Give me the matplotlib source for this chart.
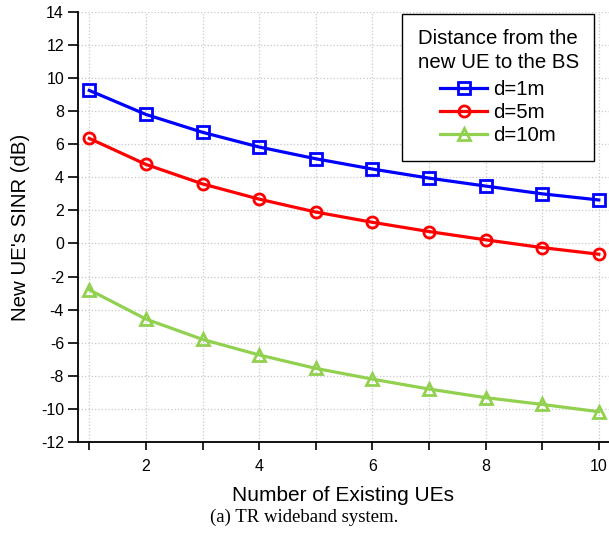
import matplotlib
matplotlib.use('Agg')
import matplotlib.pyplot as plt
import numpy as np

plt.rcParams['font.family'] = ['Liberation Sans', 'DejaVu Sans']
plt.rcParams['axes.unicode_minus'] = False

# Data
num_ues = [1, 2, 3, 4, 5, 6, 7, 8, 9, 10]
sinr_1m = [9.25, 7.8, 6.72, 5.83, 5.12, 4.5, 3.95, 3.47, 3.0, 2.63]
sinr_5m = [6.35, 4.78, 3.6, 2.68, 1.9, 1.28, 0.72, 0.22, -0.25, -0.65]
sinr_10m = [-2.8, -4.57, -5.8, -6.74, -7.55, -8.2, -8.8, -9.32, -9.73, -10.17]

series = [
    (sinr_1m, 'd=1m', '#0000FF', 's'),
    (sinr_5m, 'd=5m', '#FF0000', 'o'),
    (sinr_10m, 'd=10m', '#92D050', '^'),
]

fig = plt.figure(figsize=(6.09, 5.39), dpi=100)
ax = fig.add_axes([0.128, 0.18, 0.872, 0.798])

for vals, label, color, marker in series:
    ax.plot(num_ues, vals, color=color, lw=2.3, marker=marker, ms=8,
            mfc='none', mec=color, mew=2.0, label=label)

ax.set_xlim(0.8, 10.18)
ax.set_ylim(-12, 14)
ax.set_xticks(range(1, 11))
ax.set_xticklabels(['' if i % 2 else str(i) for i in range(1, 11)])
ax.set_yticks(np.arange(-12, 15, 2))
ax.tick_params(direction='out', length=7, width=1.2, labelsize=11.5, pad=3)
ax.tick_params(axis='x', length=6, pad=6)
ax.grid(True, color='#c8c8c8', linestyle=':', linewidth=0.9)
ax.spines['top'].set_visible(False)
ax.spines['right'].set_visible(False)
ax.spines['left'].set_linewidth(1.3)
ax.spines['bottom'].set_linewidth(1.3)

ax.set_xlabel('Number of Existing UEs', fontsize=15, labelpad=9)
ax.set_ylabel("New UE's SINR (dB)", fontsize=14.7, labelpad=8)

leg = ax.legend(title='Distance from the\nnew UE to the BS', fontsize=14.7,
                title_fontsize=14.7, loc='upper right', bbox_to_anchor=(0.972, 0.995),
                frameon=True, fancybox=False, edgecolor='black', framealpha=1,
                handlelength=2.3, handletextpad=0.3, borderpad=0.75, labelspacing=0.2,
                borderaxespad=0)
leg.get_frame().set_linewidth(1.0)
leg.get_title().set_linespacing(1.3)
leg._legend_box.sep = 6

fig.text(0.5, 1 - 517 / 539, '(a) TR wideband system.', ha='center', va='center',
         fontsize=13.5, family='Liberation Serif')

plt.savefig('out.png', dpi=100)
